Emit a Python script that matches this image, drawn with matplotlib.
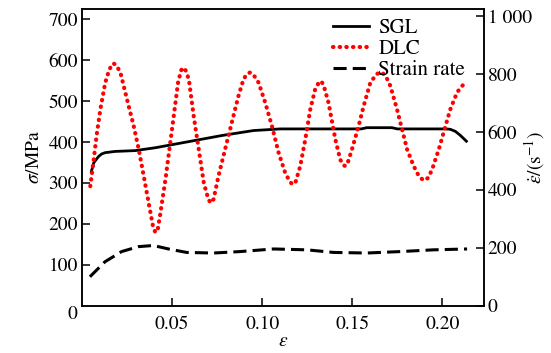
import matplotlib.pyplot as plt

plt.rcParams['font.family'] = 'STIXGeneral'
plt.rcParams['mathtext.fontset'] = 'stix'
plt.rcParams['font.size'] = 14

# SGL stress (MPa) vs strain
sgl_strain = [0.0052, 0.0065, 0.0080, 0.0093, 0.0110, 0.0129, 0.0185, 0.0296, 0.0407,
              0.0556, 0.0667, 0.0778, 0.0850, 0.0952, 0.1100, 0.1300, 0.1433, 0.1550,
              0.1580, 0.1720, 0.1750, 0.1900, 0.2020, 0.2044, 0.2072, 0.2100, 0.2133]
sgl_stress = [328, 349, 358, 365, 371, 374, 377, 379, 386,
              398, 407, 416, 421, 428, 432, 432, 432, 432,
              435, 435, 432, 432, 432, 431, 426, 416, 402]

# DLC stress (MPa) vs strain
dlc_strain = [0.0046, 0.0065, 0.0083, 0.0102, 0.0129, 0.0150, 0.0167, 0.0175, 0.0190,
              0.0213, 0.0250, 0.0287, 0.0315, 0.0343, 0.0370, 0.0394, 0.0407, 0.0420,
              0.0435, 0.0463, 0.0485, 0.0509, 0.0533, 0.0550, 0.0561, 0.0575, 0.0593,
              0.0620, 0.0648, 0.0676, 0.0700, 0.0713, 0.0730, 0.0757, 0.0794, 0.0831,
              0.0868, 0.0896, 0.0915, 0.0933, 0.0955, 0.0980, 0.1017, 0.1054, 0.1091,
              0.1128, 0.1155, 0.1170, 0.1185, 0.1211, 0.1239, 0.1267, 0.1294, 0.1315,
              0.1326, 0.1340, 0.1368, 0.1406, 0.1433, 0.1450, 0.1461, 0.1475, 0.1498,
              0.1535, 0.1563, 0.1600, 0.1635, 0.1660, 0.1685, 0.1711, 0.1748, 0.1776,
              0.1804, 0.1841, 0.1870, 0.1896, 0.1920, 0.1943, 0.1980, 0.2017, 0.2044,
              0.2081, 0.2105, 0.2128]
dlc_stress = [292, 357, 422, 480, 545, 575, 590, 592, 588,
              570, 504, 439, 382, 316, 251, 194, 179, 185,
              226, 308, 382, 463, 545, 575, 582, 575, 553,
              463, 382, 300, 262, 251, 260, 316, 382, 447,
              512, 553, 566, 570, 562, 545, 496, 439, 374,
              324, 302, 296, 302, 341, 406, 480, 529, 546,
              549, 540, 496, 406, 357, 344, 341, 350, 382,
              439, 488, 545, 566, 571, 562, 537, 480, 431,
              382, 341, 316, 306, 312, 333, 382, 439, 480,
              521, 535, 545]

# Strain rate (1/s) vs strain
rate_strain = [0.0044, 0.0128, 0.0220, 0.0313, 0.0396, 0.0480, 0.0581, 0.0730, 0.0878,
               0.1063, 0.1248, 0.1396, 0.1580, 0.1767, 0.1950, 0.2137]
rate_values = [100, 152, 187, 204, 208, 196, 184, 182, 187,
               196, 193, 184, 182, 187, 193, 196]

fig = plt.figure(figsize=(5.51, 3.53), dpi=100)
ax = fig.add_axes([0.1488, 0.134, 0.7287, 0.8405])
ax2 = ax.twinx()

l1, = ax.plot(sgl_strain, sgl_stress, color='black', lw=2.0, label='SGL')
l2, = ax.plot(dlc_strain, dlc_stress, color='#ff0000', lw=3.0,
              linestyle=(0, (0.1, 1.5)), dash_capstyle='round', label='DLC')
l3, = ax2.plot(rate_strain, rate_values, color='black', lw=2.2,
               linestyle=(0, (4.3, 2.0)), label='Strain rate')

ax.set_xlim(0, 0.2228)
ax.set_ylim(0, 725)
ax2.set_ylim(0, 1025)

ax.set_xticks([0.05, 0.10, 0.15, 0.20])
ax.set_xticklabels(['0.05', '0.10', '0.15', '0.20'])
ax.set_yticks([100, 200, 300, 400, 500, 600, 700])
ax2.set_yticks([0, 200, 400, 600, 800, 1000])
ax2.set_yticklabels(['0', '200', '400', '600', '800', '1 000'])

ax.tick_params(axis='x', direction='in', length=6, width=1.1, pad=7, top=False)
ax.tick_params(axis='y', direction='in', length=6, width=1.1, pad=3, right=False)
ax2.tick_params(axis='y', direction='in', length=6, width=1.1, pad=3)
for a in (ax, ax2):
    for s in a.spines.values():
        s.set_linewidth(1.1)

# shared origin label
ax.annotate('0', xy=(0, 0), xycoords='axes fraction', xytext=(-7, -6),
            textcoords='offset points', ha='center', va='center')

ax.set_xlabel(r'$\varepsilon$', labelpad=0)
ax.set_ylabel(r'$\sigma$/MPa', labelpad=4)
ax2.set_ylabel(r'$\dot{\varepsilon}$/(s$^{-1}$)', va='center')
ax2.yaxis.set_label_coords(1.128, 0.5)

ax.legend(handles=[l1, l2, l3], loc='upper right', bbox_to_anchor=(0.985, 1.01),
          frameon=False, labelspacing=0.05, handlelength=1.7, handletextpad=0.45,
          borderaxespad=0.2, fontsize=15)

fig.savefig('out.png', dpi=100)
